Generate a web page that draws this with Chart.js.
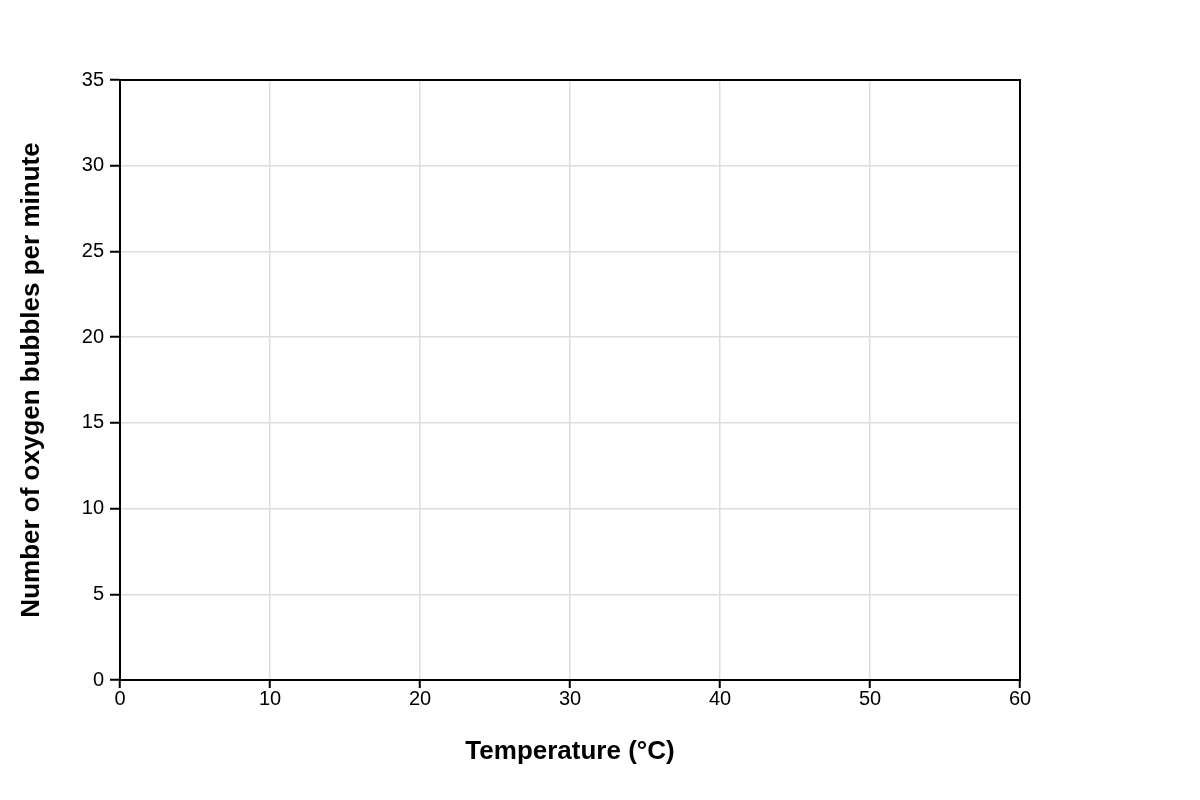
<!DOCTYPE html>
<html>
<head>
<meta charset="utf-8">
<script src="https://cdn.jsdelivr.net/npm/chart.js@4/dist/chart.umd.min.js"></script>
<style>
  html, body { margin: 0; padding: 0; background: #fff; }
  #wrap { width: 1200px; height: 800px; }
</style>
</head>
<body>
<div id="wrap"><canvas id="chart"></canvas></div>
<script>
// Chart data (the reference is a blank grid, no points plotted)
const temperatures = [];
const bubbleCounts = [];

// Axis ranges / ticks
const xTicks = [0, 10, 20, 30, 40, 50, 60];
const yTicks = [0, 5, 10, 15, 20, 25, 30, 35];

// draws the black frame round the plot area
const frame = {
    id: 'frame',
    afterDraw(chart) {
        const { ctx, chartArea: a } = chart;
        ctx.save();
        ctx.strokeStyle = '#000';
        ctx.lineWidth = 2;
        ctx.strokeRect(a.left, a.top, a.right - a.left, a.bottom - a.top);
        ctx.restore();
    }
};

const tickFont = { family: "'Liberation Sans', Arial, sans-serif", size: 20 };
const titleFont = { family: "'Liberation Sans', Arial, sans-serif", size: 26, weight: 'bold' };

new Chart(document.getElementById('chart').getContext('2d'), {
    type: 'scatter',
    data: {
        datasets: [
            {
                label: 'Oxygen bubbles',
                data: temperatures.map((t, i) => ({ x: t, y: bubbleCounts[i] })),
                backgroundColor: '#000',
            }
        ]
    },
    options: {
        responsive: true,
        maintainAspectRatio: false,
        animation: false,
        layout: {
            padding: { top: 80, right: 180, left: 0, bottom: 0 }
        },
        plugins: {
            legend: { display: false },
            tooltip: { enabled: false }
        },
        scales: {
            x: {
                type: 'linear',
                min: xTicks[0],
                max: xTicks[xTicks.length - 1],
                afterFit: s => { s.height = 120; },
                afterBuildTicks: s => { s.ticks = xTicks.map(v => ({ value: v })); },
                grid: { color: '#dddddd', lineWidth: 1.5, tickColor: '#000', tickLength: 8, tickWidth: 2 },
                border: { color: '#000', width: 2 },
                ticks: { color: '#000', font: tickFont, padding: -1, maxRotation: 0 },
                title: {
                    display: true,
                    text: 'Temperature (°C)',
                    color: '#000',
                    font: titleFont,
                    padding: { top: 0, bottom: 33 }
                }
            },
            y: {
                type: 'linear',
                min: yTicks[0],
                max: yTicks[yTicks.length - 1],
                afterFit: s => { s.width = 120; },
                afterBuildTicks: s => { s.ticks = yTicks.map(v => ({ value: v })); },
                grid: { color: '#dddddd', lineWidth: 1.5, tickColor: '#000', tickLength: 10, tickWidth: 2 },
                border: { color: '#000', width: 2 },
                ticks: { color: '#000', font: tickFont, padding: 6 },
                title: {
                    display: true,
                    text: 'Number of oxygen bubbles per minute',
                    color: '#000',
                    font: titleFont,
                    padding: { top: 16, bottom: 0 }
                }
            }
        }
    },
    plugins: [frame]
});
</script>
</body>
</html>
